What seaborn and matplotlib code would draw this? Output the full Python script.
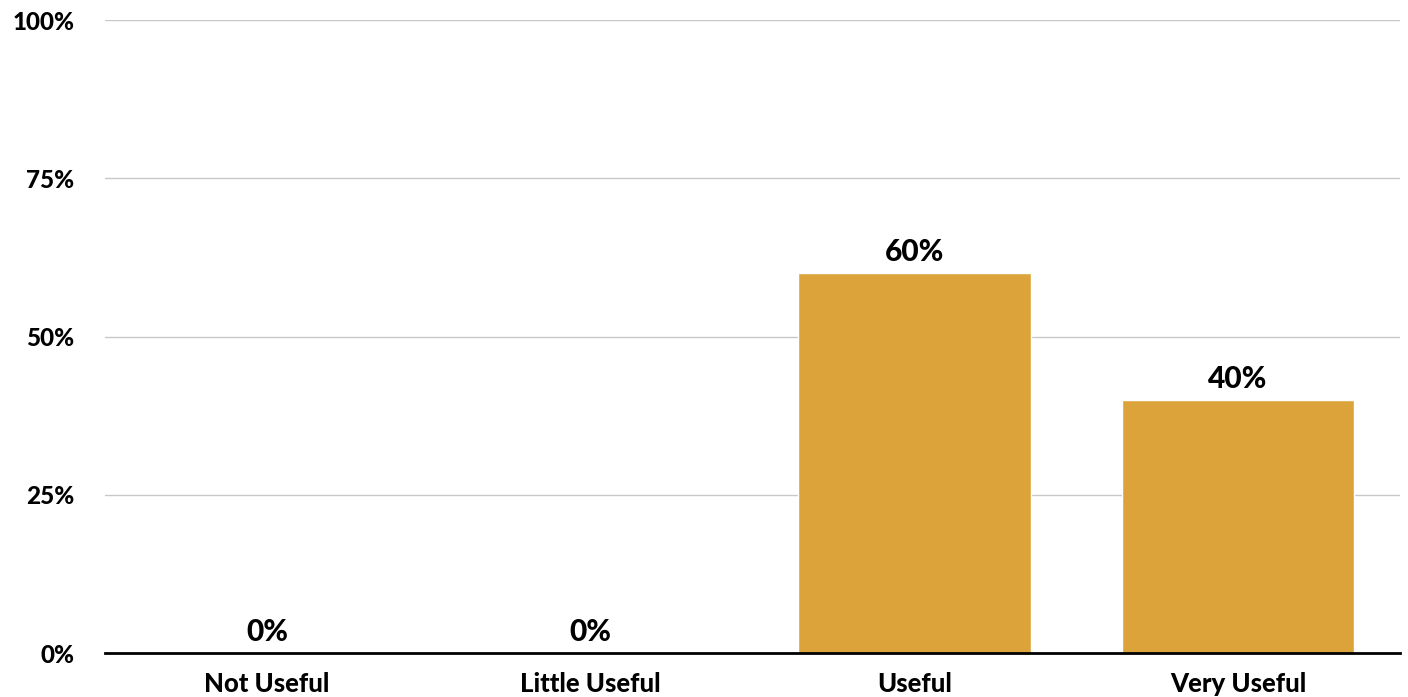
import matplotlib
matplotlib.use("Agg")
import matplotlib.pyplot as plt
from matplotlib.ticker import FixedLocator, FuncFormatter
import seaborn as sns
import pandas as pd

# Survey responses: share of respondents per usefulness rating
categories = ["Not Useful", "Little Useful", "Useful", "Very Useful"]
shares = [0, 0, 60, 40]
y_ticks = [0, 25, 50, 75, 100]

df = pd.DataFrame({"rating": categories, "share": shares})

sns.set_theme(style="white")
plt.rcParams["font.family"] = ["Lato", "DejaVu Sans"]

fig = plt.figure(figsize=(14.08, 6.97), dpi=100)
ax = fig.add_axes([0.0746, 0.0631, 0.9197, 0.9082])

sns.barplot(data=df, x="rating", y="share", order=categories,
            color="#DBA33A", saturation=1, width=0.718, ax=ax, zorder=3)

ax.set_ylim(0, 100)
ax.set_xlim(-0.5, len(categories) - 0.5)
ax.yaxis.set_major_locator(FixedLocator(y_ticks))
ax.yaxis.set_major_formatter(FuncFormatter(lambda v, _: f"{v:.0f}%"))
ax.grid(axis="y", color="#c8c8c8", linewidth=1, zorder=0)
ax.set_axisbelow(True)

for side in ["top", "right", "left"]:
    ax.spines[side].set_visible(False)
ax.spines["bottom"].set_color("black")
ax.spines["bottom"].set_linewidth(2)
ax.spines["bottom"].set_zorder(5)

ax.set_xlabel("")
ax.set_ylabel("")
ax.tick_params(axis="y", length=0, pad=22, labelsize=17.5)
ax.tick_params(axis="x", length=0, pad=14, labelsize=18.5)
for lbl in ax.get_xticklabels() + ax.get_yticklabels():
    lbl.set_fontweight("black")
    lbl.set_color("black")

# Value labels above each bar
for i, v in enumerate(shares):
    ax.annotate(f"{v}%", xy=(i, v), xytext=(0, 5), textcoords="offset points",
                ha="center", va="bottom", fontsize=21.5, fontweight="black",
                color="black", zorder=6)

fig.savefig("out.png", dpi=100)
